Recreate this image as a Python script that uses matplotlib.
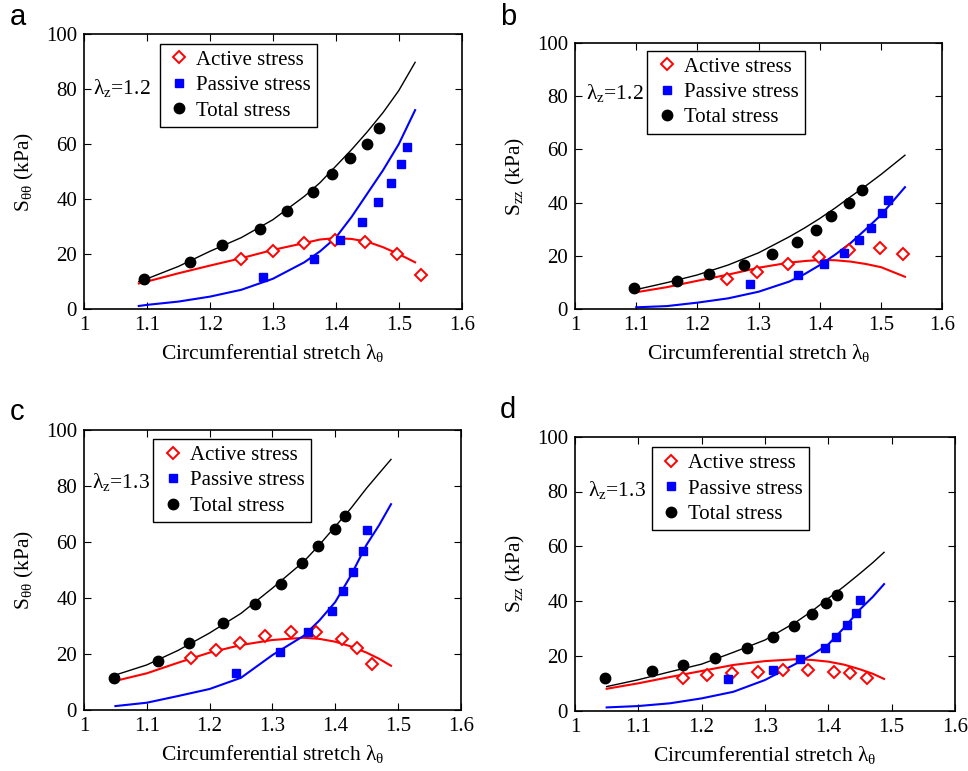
import matplotlib
matplotlib.use("Agg")
import matplotlib.pyplot as plt

plt.rcParams['font.family'] = 'Liberation Serif'
plt.rcParams['font.size'] = 15
plt.rcParams['mathtext.fontset'] = 'custom'
plt.rcParams['mathtext.rm'] = 'Liberation Serif'
plt.rcParams['mathtext.it'] = 'Liberation Serif:italic'

#---------------------------------------------- data
# panel a : S_thth, lambda_z = 1.2
a_act_x = [1.25, 1.30, 1.35, 1.399, 1.446, 1.498, 1.535]
a_act_y = [18.2, 21.2, 23.9, 25.1, 24.3, 20.0, 12.4]
a_pas_x = [1.284, 1.365, 1.406, 1.441, 1.467, 1.487, 1.504, 1.513]
a_pas_y = [11.8, 18.1, 25.1, 31.7, 39.1, 45.7, 52.7, 59.1]
a_tot_x = [1.096, 1.168, 1.220, 1.279, 1.323, 1.363, 1.394, 1.422, 1.449, 1.469]
a_tot_y = [10.9, 17.2, 23.2, 29.2, 35.8, 42.5, 49.0, 54.8, 59.9, 65.8]
a_fit_x = [1.087, 1.10, 1.15, 1.20, 1.25, 1.30, 1.35, 1.375, 1.40, 1.425, 1.45, 1.475, 1.50, 1.526]
a_fit_tot = [10.0, 11.0, 15.5, 21.0, 26.0, 32.5, 41.0, 46.0, 52.0, 58.0, 64.5, 71.5, 79.5, 89.8]
a_fit_act = [9.3, 10.0, 13.0, 15.8, 18.5, 21.5, 24.0, 25.3, 25.8, 25.5, 24.5, 22.5, 20.0, 17.0]
a_fit_pas = [1.1, 1.5, 2.7, 4.5, 7.0, 11.0, 17.0, 21.0, 26.0, 33.5, 42.0, 50.5, 60.0, 72.4]

# panel b : S_zz, lambda_z = 1.2
b_act_x = [1.248, 1.297, 1.348, 1.399, 1.448, 1.498, 1.535]
b_act_y = [11.5, 13.9, 16.9, 19.5, 22.1, 23.1, 20.9]
b_pas_x = [1.286, 1.365, 1.407, 1.440, 1.464, 1.484, 1.502, 1.511]
b_pas_y = [9.6, 12.9, 17.0, 21.2, 26.0, 30.4, 36.0, 40.9]
b_tot_x = [1.096, 1.167, 1.219, 1.276, 1.321, 1.362, 1.393, 1.419, 1.447, 1.469]
b_tot_y = [8.1, 10.5, 13.1, 16.5, 20.6, 25.2, 29.6, 34.9, 40.0, 44.9]
b_fit_x = [1.10, 1.15, 1.20, 1.25, 1.30, 1.35, 1.375, 1.40, 1.425, 1.45, 1.475, 1.50, 1.539]
b_fit_tot = [7.4, 10.0, 12.9, 16.6, 21.2, 27.2, 30.5, 34.1, 38.0, 42.2, 46.3, 50.6, 57.8]
b_fit_act = [6.4, 8.3, 10.7, 13.0, 15.6, 17.5, 18.1, 18.5, 18.4, 17.9, 17.0, 15.8, 12.2]
b_fit_pas = [0.75, 1.2, 2.5, 4.1, 6.6, 10.4, 13.2, 16.6, 20.5, 24.8, 30.0, 35.4, 45.8]

# panel c : S_thth, lambda_z = 1.3
c_act_x = [1.171, 1.210, 1.249, 1.289, 1.329, 1.370, 1.411, 1.435, 1.459]
c_act_y = [18.5, 21.4, 23.8, 26.3, 27.7, 27.9, 25.4, 22.0, 16.3]
c_pas_x = [1.242, 1.312, 1.356, 1.395, 1.412, 1.429, 1.445, 1.451]
c_pas_y = [13.1, 20.6, 27.9, 35.2, 42.6, 49.4, 56.9, 64.2]
c_tot_x = [1.047, 1.118, 1.167, 1.221, 1.273, 1.313, 1.347, 1.373, 1.399, 1.415]
c_tot_y = [11.3, 17.5, 23.8, 31.1, 38.0, 45.1, 52.5, 58.6, 64.6, 69.2]
c_fit_x = [1.05, 1.10, 1.15, 1.20, 1.25, 1.30, 1.35, 1.375, 1.40, 1.425, 1.45, 1.47, 1.489]
c_fit_tot = [12.5, 16.1, 21.3, 27.5, 34.5, 43.5, 53.0, 59.0, 65.5, 72.0, 79.2, 84.5, 89.5]
c_fit_act = [10.4, 13.1, 16.9, 20.5, 23.2, 25.0, 25.8, 25.4, 24.4, 22.7, 20.5, 18.3, 15.8]
c_fit_pas = [1.4, 2.6, 5.0, 7.5, 11.5, 19.6, 26.5, 32.0, 38.5, 48.0, 59.0, 66.0, 73.5]

# panel d : S_zz, lambda_z = 1.3
d_act_x = [1.170, 1.209, 1.248, 1.289, 1.329, 1.368, 1.409, 1.434, 1.461]
d_act_y = [12.0, 13.0, 13.6, 14.2, 14.9, 14.7, 14.2, 13.6, 12.0]
d_pas_x = [1.241, 1.313, 1.356, 1.395, 1.412, 1.429, 1.443, 1.450]
d_pas_y = [11.7, 14.9, 18.9, 22.8, 27.0, 31.4, 35.8, 40.3]
d_tot_x = [1.048, 1.121, 1.170, 1.221, 1.272, 1.312, 1.345, 1.374, 1.397, 1.413]
d_tot_y = [12.0, 14.5, 16.6, 19.1, 23.0, 26.8, 31.0, 35.2, 39.2, 42.1]
d_fit_x = [1.05, 1.10, 1.15, 1.20, 1.25, 1.30, 1.35, 1.375, 1.40, 1.425, 1.45, 1.47, 1.488]
d_fit_tot = [8.8, 11.3, 14.2, 17.0, 21.3, 25.8, 32.5, 36.5, 41.0, 45.4, 50.1, 54.0, 57.8]
d_fit_act = [8.0, 10.0, 12.3, 14.5, 16.7, 18.1, 18.8, 18.5, 17.9, 16.8, 15.1, 13.5, 11.6]
d_fit_pas = [1.2, 1.7, 2.7, 4.5, 6.9, 11.2, 17.3, 20.5, 24.2, 30.3, 37.0, 41.5, 46.2]

lam_z = ['1.2', '1.2', '1.3', '1.3']
letters = ['a', 'b', 'c', 'd']
ylabels = [r'$\mathrm{S_{\theta\theta}}$ (kPa)', r'$\mathrm{S_{zz}}$ (kPa)',
           r'$\mathrm{S_{\theta\theta}}$ (kPa)', r'$\mathrm{S_{zz}}$ (kPa)']
xticks = [1, 1.1, 1.2, 1.3, 1.4, 1.5, 1.6]
xticklabels = ['1', '1.1', '1.2', '1.3', '1.4', '1.5', '1.6']
yticks = [0, 20, 40, 60, 80, 100]
yticklabels = ['0', '20', '40', '60', '80', '100']

panels = [
   (a_act_x, a_act_y, a_pas_x, a_pas_y, a_tot_x, a_tot_y, a_fit_x, a_fit_tot, a_fit_act, a_fit_pas),
   (b_act_x, b_act_y, b_pas_x, b_pas_y, b_tot_x, b_tot_y, b_fit_x, b_fit_tot, b_fit_act, b_fit_pas),
   (c_act_x, c_act_y, c_pas_x, c_pas_y, c_tot_x, c_tot_y, c_fit_x, c_fit_tot, c_fit_act, c_fit_pas),
   (d_act_x, d_act_y, d_pas_x, d_pas_y, d_tot_x, d_tot_y, d_fit_x, d_fit_tot, d_fit_act, d_fit_pas),
]

#---------------------------------------------- layout
W, H = 968, 771
# axes boxes in pixels : left, right, bottom, top
boxes = [(84, 461.7, 309, 34.3), (575, 942.3, 309.3, 42.7),
         (84, 460.7, 710, 430), (575, 955, 710.7, 436.7)]
leg_anchor = [(0.201, 0.965), (0.197, 0.970), (0.184, 0.967), (0.202, 0.961)]
lam_pos = [(1.015, 80.4), (1.018, 81), (1.013, 81.5), (1.021, 80.5)]
letter_pos = [(10, 25), (500, 25), (10, 420), (500, 418)]

fig = plt.figure(figsize=(W/100, H/100), dpi=100)

for k in range(4):
   l, r, b, t = boxes[k]
   ax = fig.add_axes([l/W, (H-b)/H, (r-l)/W, (b-t)/H])
   act_x, act_y, pas_x, pas_y, tot_x, tot_y, fx, ftot, fact, fpas = panels[k]

   ax.plot(fx, ftot, color='black', lw=1.0)
   ax.plot(fx, fact, color='red', lw=1.5)
   ax.plot(fx, fpas, color='blue', lw=1.5)
   h1, = ax.plot(act_x, act_y, ls='none', marker='D', ms=6, mfc='white', mec='red', mew=1.4)
   h2, = ax.plot(pas_x, pas_y, ls='none', marker='s', ms=6, color='blue')
   h3, = ax.plot(tot_x, tot_y, ls='none', marker='o', ms=7.5, color='black')

   ax.set_xlim(1, 1.6)
   ax.set_ylim(0, 100)
   ax.set_xticks(xticks)
   ax.set_xticklabels(xticklabels, fontsize=15)
   ax.set_yticks(yticks)
   ax.set_yticklabels(yticklabels, fontsize=15)
   ax.tick_params(direction='in', top=True, right=True, length=5, width=0.8, pad=5)
   for s in ax.spines.values():
      s.set_linewidth(1.2)

   ax.set_xlabel(r'Circumferential stretch $\mathrm{\lambda_\theta}$', fontsize=15.5, labelpad=5)
   ax.set_ylabel(ylabels[k], fontsize=15.5, labelpad=7)

   leg = ax.legend([h1, h2, h3], ['Active stress', 'Passive stress', 'Total stress'],
                   loc='upper left', bbox_to_anchor=leg_anchor[k], borderaxespad=0,
                   fancybox=False, framealpha=1, edgecolor='black', numpoints=1,
                   prop={'size': 15},
                   handlelength=1.25, handletextpad=0.2, borderpad=0.3, labelspacing=0.28)
   leg.get_frame().set_linewidth(1.0)

   ax.text(lam_pos[k][0], lam_pos[k][1], r'$\mathrm{\lambda_z}$=' + lam_z[k], fontsize=15.5,
           va='center', ha='left')

   fig.text(letter_pos[k][0]/W, 1 - letter_pos[k][1]/H, letters[k], family='Liberation Sans',
            fontsize=21, va='baseline', ha='left')

fig.savefig('out.png', dpi=100)
